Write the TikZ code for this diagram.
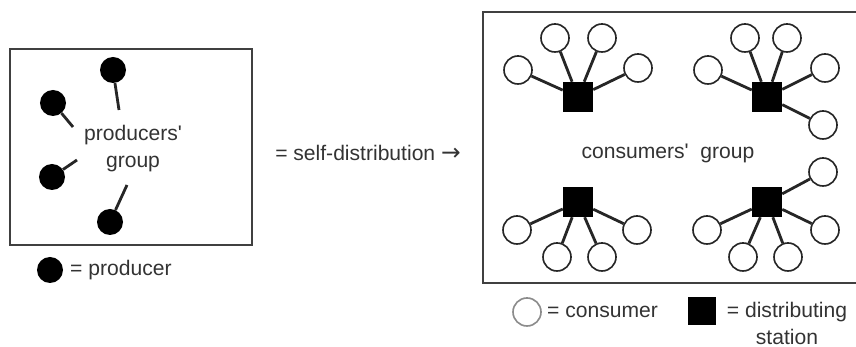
\documentclass[tikz,border=0pt]{standalone}
\usepackage{fontspec}
\setmainfont{Liberation Sans}
\newfontfamily\arrowfont{DejaVu Sans}
\usetikzlibrary{shapes, positioning}

\begin{document}
\begin{tikzpicture}[
            x=0.03cm, y=-0.03cm,
            group/.style={draw=black!75, line width=1.5pt},
            producer/.style={circle, fill=black, inner sep=0pt, minimum size=0.78cm},
            consumer/.style={circle, draw=black!85, fill=white, line width=1.4pt, inner sep=0pt, minimum size=0.84cm},
            station/.style={rectangle, fill=black, inner sep=0pt, minimum size=0.9cm},
            link/.style={line width=2.4pt, black!85},
            label/.style={text=black!80, font=\fontsize{18}{23}\selectfont, align=center, inner sep=0pt}
        ]
            \useasboundingbox (0,0) rectangle (856,347);

            % producers' group
            \draw[group] (10,49) rectangle (252,245);
            \node[label] (prodtext) at (133,149) {producers\textquotesingle\\group};
            \node[producer] (p1) at (113,70) {};
            \node[producer] (p2) at (53,103) {};
            \node[producer] (p3) at (52,177) {};
            \node[producer] (p4) at (110,222) {};
            \coordinate (p1e) at (119,110);
            \coordinate (p2e) at (73,127);
            \coordinate (p3e) at (77,160);
            \coordinate (p4e) at (127,185);
            \draw[link] (p1) -- (p1e);
            \draw[link] (p2) -- (p2e);
            \draw[link] (p3) -- (p3e);
            \draw[link] (p4) -- (p4e);

            \node[producer] (legprod) at (50,270) {};
            \node[label, anchor=west] (legprodtext) at (70,270) {= producer};

            % middle
            \node[label] (selfdist) at (368,153) {= self-distribution {\arrowfont\fontsize{20}{22}\selectfont →}};

            % consumers' group
            \draw[group] (483,12) rectangle (870,283);
            \node[label] (constext) at (668,153) {consumers\textquotesingle~~group};

            \node[station] (s1) at (578,97) {};
            \node[station] (s2) at (767,97) {};
            \node[station] (s3) at (578,202) {};
            \node[station] (s4) at (767,202) {};

            \node[consumer] (c11) at (518,70) {};
            \node[consumer] (c12) at (555,38) {};
            \node[consumer] (c13) at (602,38) {};
            \node[consumer] (c14) at (638,68) {};

            \node[consumer] (c21) at (708,70) {};
            \node[consumer] (c22) at (745,38) {};
            \node[consumer] (c23) at (787,38) {};
            \node[consumer] (c24) at (825,68) {};
            \node[consumer] (c25) at (823,125) {};

            \node[consumer] (c31) at (517,230) {};
            \node[consumer] (c32) at (557,257) {};
            \node[consumer] (c33) at (602,257) {};
            \node[consumer] (c34) at (637,230) {};

            \node[consumer] (c41) at (707,230) {};
            \node[consumer] (c42) at (743,257) {};
            \node[consumer] (c43) at (788,257) {};
            \node[consumer] (c44) at (825,230) {};
            \node[consumer] (c45) at (823,172) {};

            \foreach \c in {1,...,4} \draw[link] (s1) -- (c1\c);
            \foreach \c in {1,...,5} \draw[link] (s2) -- (c2\c);
            \foreach \c in {1,...,4} \draw[link] (s3) -- (c3\c);
            \foreach \c in {1,...,5} \draw[link] (s4) -- (c4\c);

            % legend
            \node[consumer, draw=black!45] (legcons) at (527,312) {};
            \node[label, anchor=west] (legconstext) at (547,312) {= consumer};
            \node[station, minimum size=0.84cm] (legst) at (702,311) {};
            \node[label] (legsttext) at (787,323) {= distributing\\station};
        \end{tikzpicture}
\end{document}
